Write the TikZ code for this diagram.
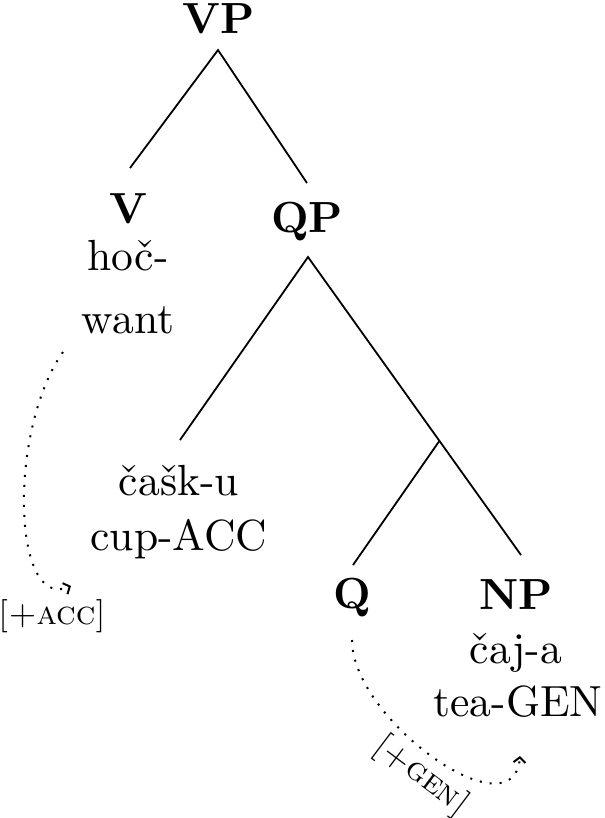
\documentclass[tikz,border=0pt]{standalone}
\usetikzlibrary{arrows.meta,calc}
\begin{document}
\begin{tikzpicture}[x=0.25pt,y=-0.25pt,
  cat/.style={anchor=base,inner sep=0pt,font=\fontsize{10.9pt}{13pt}\selectfont\bfseries},
  word/.style={anchor=base,inner sep=0pt,font=\fontsize{10.9pt}{13pt}\selectfont},
  branch/.style={line width=0.45pt},
  agree/.style={dotted,line width=0.5pt,-{Straight Barb[length=1.3pt,width=3pt]}},
  feat/.style={inner sep=0pt,font=\fontsize{8.3pt}{10pt}\selectfont\scshape}]
\useasboundingbox (0,0) rectangle (605,818);
% nodes
\node[cat] (VP) at (219,33) {VP};
\node[cat] (V) at (128,223) {V};
\node[word] (hoc) at (128,270) {hoč-};
\node[word] (want) at (128,333) {want};
\node[cat] (QP) at (307,232) {QP};
\node[word] (cask) at (179,495) {čašk-u};
\node[word] (cup) at (179,550) {cup-ACC};
\node[cat] (Q) at (352,608) {Q};
\node[cat] (NP) at (516,609) {NP};
\node[word] (caj) at (516,663) {čaj-a};
\node[word] (tea) at (518,716) {tea-GEN};
\node[feat] (acc) at (52,616) {[+acc]};
\node[feat,rotate=-37] (gen) at (421,776) {[+gen]};
% branch coordinates
\coordinate (vpb) at (218,50);
\coordinate (vt) at (130,168);
\coordinate (qpt) at (307,183);
\coordinate (qpb) at (308,257);
\coordinate (caskt) at (180,440);
\coordinate (npt) at (521,555);
\coordinate (br) at ($(qpb)!0.617!(npt)$);
\coordinate (qt) at (353,565);
\draw[branch] (vt) -- (vpb) -- (qpt);
\draw[branch] (caskt) -- (qpb) -- (npt);
\draw[branch] (br) -- (qt);
% agreement arrows
\coordinate (vs) at (63,352);
\coordinate (ve) at (71,586);
\coordinate (qs) at (352,640);
\coordinate (qe) at (520,756);
\draw[agree] (vs) .. controls (8,430) and (12,612) .. (ve);
\draw[agree] (qs) .. controls (352,720) and (514,835) .. (qe);
\end{tikzpicture}
\end{document}
